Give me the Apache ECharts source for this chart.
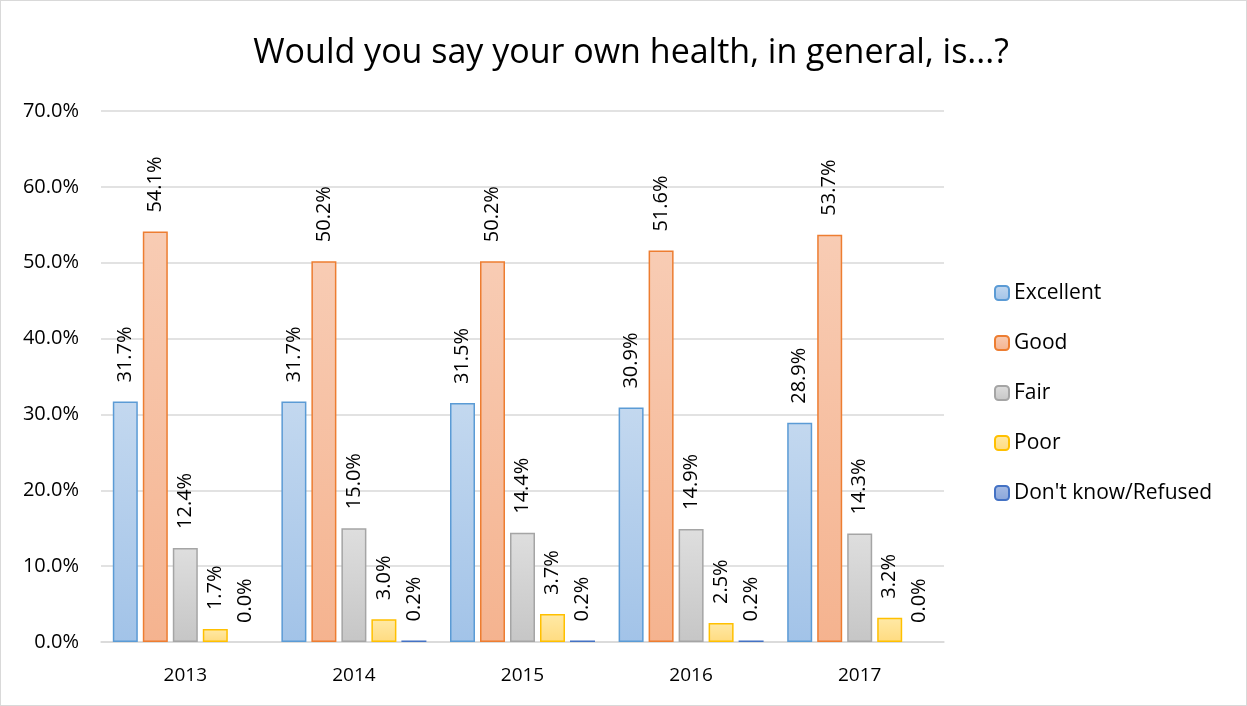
<!DOCTYPE html>
<html>
<head>
<meta charset="utf-8">
<script src="https://cdn.jsdelivr.net/npm/echarts@6/dist/echarts.min.js"></script>
<style>
  html, body { margin: 0; padding: 0; background: #fff; }
  #chart { width: 1247px; height: 706px; box-sizing: border-box; border: 1px solid #d9d9d9; }
</style>
</head>
<body>
<div id="chart"></div>
<script>
// 年份
const years = ['2013', '2014', '2015', '2016', '2017']
// 各类回答百分比
const excellent = [31.7, 31.7, 31.5, 30.9, 28.9]
const good = [54.1, 50.2, 50.2, 51.6, 53.7]
const fair = [12.4, 15.0, 14.4, 14.9, 14.3]
const poor = [1.7, 3.0, 3.7, 2.5, 3.2]
const dontKnow = [0.0, 0.2, 0.2, 0.2, 0.0]
const yTicks = [0, 10, 20, 30, 40, 50, 60, 70]

const fontFamily = '"Open Sans", "Noto Sans", sans-serif'

function grad(top, bottom) {
  return new echarts.graphic.LinearGradient(0, 0, 0, 1, [
    { offset: 0, color: top },
    { offset: 1, color: bottom }
  ])
}

function makeSeries(name, data, top, bottom, border) {
  return {
    name: name,
    type: 'bar',
    // 0 值不画边框
    data: data.map(v => (v === 0 ? { value: v, itemStyle: { borderWidth: 0 } } : v)),
    barGap: '20%',
    barCategoryGap: '14%',
    itemStyle: {
      color: grad(top, bottom),
      borderColor: border,
      borderWidth: 1.5
    },
    label: {
      show: true,
      position: 'top',
      rotate: 90,
      align: 'left',
      verticalAlign: 'middle',
      distance: 19,
      fontFamily: fontFamily,
      fontSize: 20,
      color: '#000',
      formatter: p => p.value.toFixed(1) + '%'
    }
  }
}

const chart = echarts.init(document.getElementById('chart'))
chart.setOption({
  animation: false,
  title: {
    text: 'Would you say your own health, in general, is...?',
    left: 625,
    textAlign: 'center',
    top: 30,
    textStyle: { fontFamily: fontFamily, fontSize: 34, fontWeight: 'normal', color: '#000' }
  },
  legend: {
    orient: 'vertical',
    left: 988,
    top: 276,
    itemWidth: 14,
    itemHeight: 14,
    itemGap: 28,
    textStyle: { fontFamily: fontFamily, fontSize: 21, lineHeight: 22, color: '#000' },
    data: ['Excellent', 'Good', 'Fair', 'Poor', "Don't know/Refused"]
  },
  grid: { left: 100, right: 302, top: 110, bottom: 63, containLabel: false },
  xAxis: {
    type: 'category',
    data: years,
    axisLine: { lineStyle: { color: '#d9d9d9', width: 1.5 } },
    axisTick: { show: false },
    axisLabel: { fontFamily: fontFamily, fontSize: 19, color: '#000', margin: 24 }
  },
  yAxis: {
    type: 'value',
    min: yTicks[0],
    max: yTicks[yTicks.length - 1],
    interval: 10,
    axisLine: { show: false },
    axisTick: { show: false },
    splitLine: { lineStyle: { color: '#d9d9d9', width: 1.5 } },
    axisLabel: {
      fontFamily: fontFamily,
      fontSize: 20,
      color: '#000',
      margin: 22,
      formatter: v => v.toFixed(1) + '%'
    }
  },
  series: [
    makeSeries('Excellent', excellent, '#c3d8ef', '#a2c3e8', '#5b9bd5'),
    makeSeries('Good', good, '#f8ccb4', '#f5b38f', '#ed7d31'),
    makeSeries('Fair', fair, '#dedede', '#c6c6c6', '#a5a5a5'),
    makeSeries('Poor', poor, '#ffe9a6', '#ffdb80', '#ffc000'),
    makeSeries("Don't know/Refused", dontKnow, '#a7bce4', '#8aa6da', '#4472c4')
  ]
})
</script>
</body>
</html>
